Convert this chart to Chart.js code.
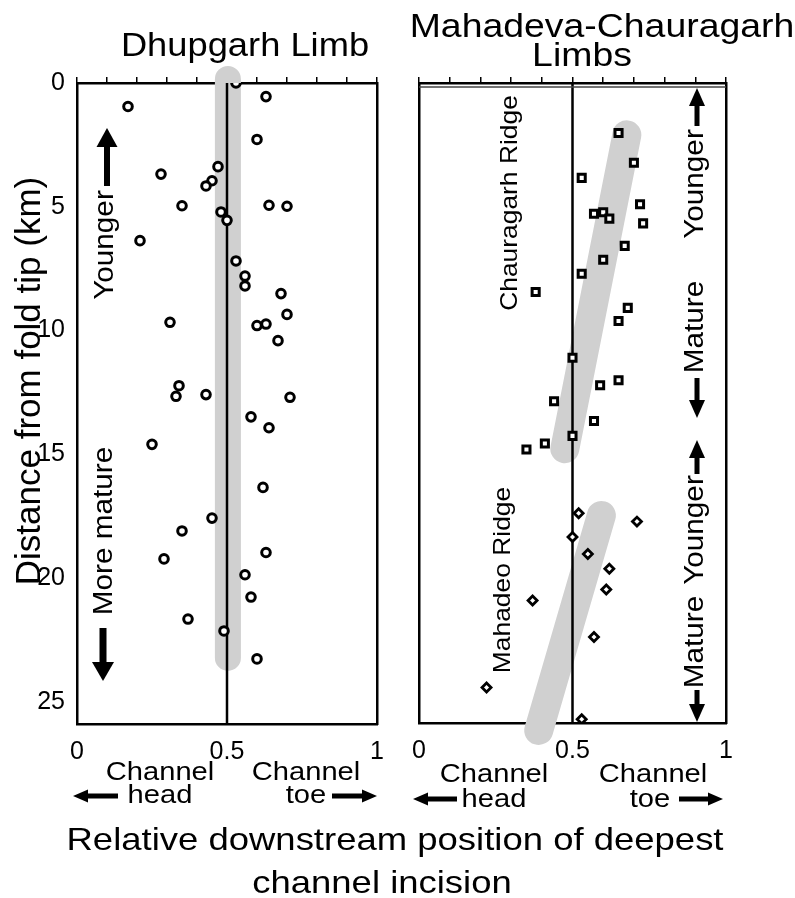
<!DOCTYPE html>
<html>
<head>
<meta charset="utf-8">
<script src="https://cdn.jsdelivr.net/npm/chart.js@4.4.0/dist/chart.umd.min.js"></script>
<style>
  body { margin: 0; background: #fff; }
  #wrap { position: relative; width: 795px; height: 898px; }
  #wrap canvas { position: absolute; left: 0; top: 0; }
</style>
</head>
<body>
<div id="wrap">
  <canvas id="dhupgarh" width="795" height="898"></canvas>
  <canvas id="mahadeva" width="795" height="898"></canvas>
</div>
<script>
// Dhupgarh limb (circles): relative position vs distance from fold tip (km)
const dhupPos  = [0.53, 0.63, 0.17, 0.60, 0.47, 0.28, 0.45, 0.43, 0.35, 0.64,
                  0.70, 0.48, 0.50, 0.21, 0.53, 0.56, 0.56, 0.68, 0.70, 0.31,
                  0.60, 0.63, 0.67, 0.34, 0.33, 0.43, 0.71, 0.58, 0.64, 0.25,
                  0.62, 0.45, 0.35, 0.63, 0.29, 0.56, 0.58, 0.37, 0.49, 0.60];
const dhupDist = [0.00, 0.55, 0.95, 2.28, 3.38, 3.68, 3.95, 4.16, 4.96, 4.94,
                  4.98, 5.21, 5.55, 6.37, 7.19, 7.80, 8.20, 8.51, 9.35, 9.67,
                  9.80, 9.74, 10.41, 12.23, 12.66, 12.59, 12.70, 13.49, 13.93, 14.60,
                  16.34, 17.58, 18.10, 18.97, 19.23, 19.87, 20.77, 21.66, 22.14, 23.27];

// Chauragarh ridge (squares)
const chauPos  = [0.65, 0.70, 0.53, 0.72, 0.57, 0.60, 0.62, 0.73, 0.67, 0.60, 0.53,
                  0.38, 0.68, 0.65, 0.50, 0.65, 0.59, 0.44, 0.57, 0.50, 0.41, 0.35];
const chauDist = [2.02, 3.23, 3.84, 4.91, 5.29, 5.23, 5.49, 5.68, 6.59, 7.15, 7.72,
                  8.46, 9.10, 9.63, 11.12, 12.03, 12.23, 12.88, 13.68, 14.28, 14.59, 14.83];

// Mahadeo ridge (diamonds)
const mahaPos  = [0.52, 0.71, 0.50, 0.55, 0.62, 0.61, 0.37, 0.57, 0.22, 0.53];
const mahaDist = [17.41, 17.75, 18.37, 19.06, 19.66, 20.50, 20.94, 22.42, 24.46, 25.75];

// grey trend bands (end points) and the 0.5 reference line
const dhupBandPos = [0.503, 0.503];
const dhupBandDist = [-0.16, 23.23];
const chauBandPos = [0.677, 0.475];
const chauBandDist = [2.1, 14.8];
const mahaBandPos = [0.594, 0.39];
const mahaBandDist = [17.5, 26.2];
const midPos = [0.5, 0.5];
const midDist = [0, 25.9];

const xTicks = [0, 0.5, 1];
const yTicks = [0, 5, 10, 15, 20, 25];
const DIST_MAX = 25.9;

const FONT = '"Liberation Sans", Arial, Helvetica, sans-serif';
const pts = (xs, ys) => xs.map((x, i) => ({ x: x, y: ys[i] }));

function txt(ctx, s, x, y, size, sx, rot) {
  ctx.save();
  ctx.translate(x, y);
  if (rot) ctx.rotate(rot);
  ctx.scale(sx, 1);
  ctx.font = size + 'px ' + FONT;
  ctx.fillStyle = '#000';
  ctx.textAlign = 'center';
  ctx.textBaseline = 'alphabetic';
  ctx.fillText(s, 0, 0);
  ctx.restore();
}

function arrow(ctx, x1, y1, x2, y2, shaft, head, headLen) {
  const a = Math.atan2(y2 - y1, x2 - x1);
  const len = Math.hypot(x2 - x1, y2 - y1);
  ctx.save();
  ctx.translate(x1, y1);
  ctx.rotate(a);
  ctx.fillStyle = '#000';
  ctx.fillRect(0, -shaft / 2, len - headLen + 1, shaft);
  ctx.beginPath();
  ctx.moveTo(len, 0);
  ctx.lineTo(len - headLen, -head / 2);
  ctx.lineTo(len - headLen, head / 2);
  ctx.closePath();
  ctx.fill();
  ctx.restore();
}

const UP = -Math.PI / 2;

function scales(yWidth, showYLabels) {
  return {
    x: {
      type: 'linear', position: 'bottom', min: 0, max: 1,
      afterBuildTicks: s => { s.ticks = xTicks.map(v => ({ value: v })); },
      ticks: { color: '#000', padding: 5, font: { family: FONT, size: 25 }, callback: v => String(v) },
      grid: { display: false },
      border: { color: '#000', width: 2.5 },
      afterFit: s => { s.height = 40; }
    },
    xTop: {
      type: 'linear', position: 'top', min: 0, max: 1,
      ticks: { display: false, stepSize: 0.1 },
      grid: { drawOnChartArea: false, drawTicks: true, tickLength: 6, color: '#000', lineWidth: 1.5 },
      border: { color: '#000', width: 2.5 },
      afterFit: s => { s.height = 6; }
    },
    y: {
      type: 'linear', position: 'left', reverse: true, min: 0, max: DIST_MAX,
      afterBuildTicks: s => { s.ticks = yTicks.map(v => ({ value: v })); },
      ticks: { display: showYLabels, color: '#000', padding: 4, font: { family: FONT, size: 25 } },
      grid: { display: false },
      border: { color: '#000', width: 2.5 },
      afterFit: s => { s.width = yWidth; }
    },
    y2: {
      type: 'linear', position: 'right', reverse: true, min: 0, max: DIST_MAX,
      ticks: { display: false },
      grid: { display: false },
      border: { color: '#000', width: 2.5 },
      afterFit: s => { s.width = 0; }
    }
  };
}

function band(xs, ys, width) {
  return {
    data: pts(xs, ys), showLine: true, borderColor: '#d0d0d0', borderWidth: width,
    borderCapStyle: 'round', pointRadius: 0, fill: false, clip: false, order: 3
  };
}

function midLine() {
  return {
    data: pts(midPos, midDist), showLine: true, borderColor: '#000', borderWidth: 2.5,
    pointRadius: 0, fill: false, order: 2
  };
}

const common = {
  responsive: false,
  animation: false,
  events: [],
  plugins: { legend: { display: false }, tooltip: { enabled: false }, title: { display: false } }
};

// ---- left panel: Dhupgarh Limb ----
const dhupText = {
  id: 'dhupText',
  afterDraw(chart) {
    const ctx = chart.ctx;
    txt(ctx, 'Dhupgarh Limb', 245, 56, 33, 1.1);
    txt(ctx, 'Mahadeva-Chauragarh', 602, 37, 34, 1.1);
    txt(ctx, 'Limbs', 582, 66, 34, 1.1);
    txt(ctx, 'Distance from fold tip (km)', 40, 381, 35, 1.0, UP);

    txt(ctx, 'Younger', 113, 245, 27, 1.1, UP);
    arrow(ctx, 107, 186, 107, 128, 6, 21, 19);
    txt(ctx, 'More mature', 112, 531, 27, 1.1, UP);
    arrow(ctx, 103, 628, 103, 681, 7, 22, 19);

    txt(ctx, 'Channel', 160, 780, 26, 1.12);
    txt(ctx, 'head', 160, 803, 26, 1.12);
    arrow(ctx, 118, 796, 73, 796, 5, 13, 15);
    txt(ctx, 'Channel', 306, 780, 26, 1.12);
    txt(ctx, 'toe', 306, 803, 26, 1.12);
    arrow(ctx, 332, 796, 377, 796, 5, 13, 15);

    txt(ctx, 'Relative downstream position of deepest', 395, 850, 32, 1.14);
    txt(ctx, 'channel incision', 382, 893, 32, 1.14);
  }
};

new Chart(document.getElementById('dhupgarh'), {
  type: 'scatter',
  data: {
    datasets: [
      band(dhupBandPos, dhupBandDist, 26),
      midLine(),
      {
        data: pts(dhupPos, dhupDist), pointStyle: 'circle', pointRadius: 4.3,
        pointBorderWidth: 3, pointBorderColor: '#000', pointBackgroundColor: '#fff', order: 1
      }
    ]
  },
  options: Object.assign({}, common, {
    layout: { padding: { left: 0, right: 418, top: 77, bottom: 134 } },
    scales: scales(77, true)
  }),
  plugins: [dhupText]
});

// ---- right panel: Mahadeva-Chauragarh Limbs ----
const mahaText = {
  id: 'mahaText',
  afterDraw(chart) {
    const ctx = chart.ctx;
    const a = chart.chartArea;
    ctx.save();
    ctx.strokeStyle = '#444';
    ctx.lineWidth = 1.5;
    ctx.beginPath();
    ctx.moveTo(a.left, a.top + 4);
    ctx.lineTo(a.right, a.top + 4);
    ctx.stroke();
    ctx.restore();

    txt(ctx, 'Chauragarh Ridge', 517, 203, 24, 1.1, UP);
    txt(ctx, 'Mahadeo Ridge', 510, 580, 24, 1.1, UP);

    arrow(ctx, 697, 126, 697, 88, 5, 16, 18);
    txt(ctx, 'Younger', 703, 184, 27, 1.1, UP);
    txt(ctx, 'Mature', 703, 327, 27, 1.1, UP);
    arrow(ctx, 697, 378, 697, 418, 5, 16, 18);
    arrow(ctx, 697, 474, 697, 440, 5, 16, 18);
    txt(ctx, 'Younger', 703, 530, 27, 1.1, UP);
    txt(ctx, 'Mature', 703, 642, 27, 1.1, UP);
    arrow(ctx, 697, 690, 697, 722, 5, 16, 18);

    txt(ctx, 'Channel', 494, 782, 26, 1.12);
    txt(ctx, 'head', 494, 807, 26, 1.12);
    arrow(ctx, 457, 799, 413, 799, 5, 13, 15);
    txt(ctx, 'Channel', 653, 782, 26, 1.12);
    txt(ctx, 'toe', 650, 807, 26, 1.12);
    arrow(ctx, 679, 799, 723, 799, 5, 13, 15);
  }
};

new Chart(document.getElementById('mahadeva'), {
  type: 'scatter',
  data: {
    datasets: [
      band(chauBandPos, chauBandDist, 29),
      band(mahaBandPos, mahaBandDist, 29),
      midLine(),
      {
        data: pts(chauPos, chauDist), pointStyle: 'rect', pointRadius: 5,
        pointBorderWidth: 3, pointBorderColor: '#000', pointBackgroundColor: '#fff', order: 1
      },
      {
        data: pts(mahaPos, mahaDist), pointStyle: 'rectRot', pointRadius: 4.5,
        pointBorderWidth: 2.8, pointBorderColor: '#000', pointBackgroundColor: '#fff', order: 1, clip: 0
      }
    ]
  },
  options: Object.assign({}, common, {
    layout: { padding: { left: 419, right: 69, top: 77, bottom: 135 } },
    scales: scales(0, false)
  }),
  plugins: [mahaText]
});
</script>
</body>
</html>
